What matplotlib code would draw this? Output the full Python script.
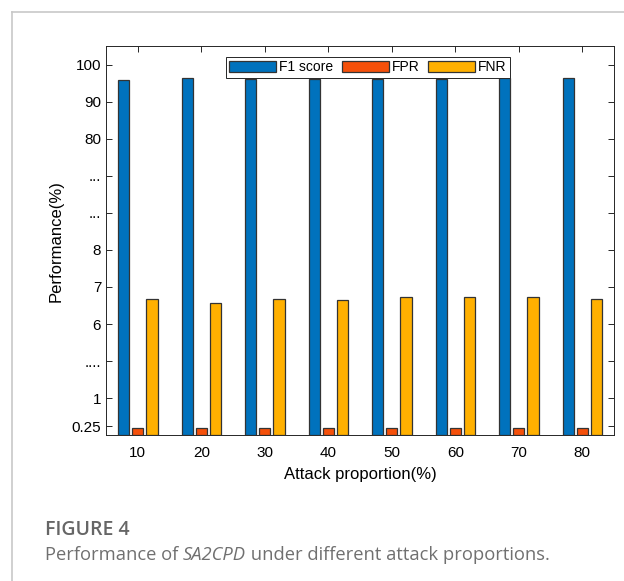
import numpy as np
import matplotlib
matplotlib.use('Agg')
import matplotlib.pyplot as plt
from matplotlib.lines import Line2D

plt.rcParams['font.family'] = ['Liberation Sans', 'DejaVu Sans']

# attack proportion (%) and the three metrics (%)
proportions = [10, 20, 30, 40, 50, 60, 70, 80]
f1_score = [95.7, 96.3, 96.2, 96.2, 96.2, 96.2, 96.4, 96.5]
fpr = [0.2, 0.2, 0.2, 0.2, 0.2, 0.2, 0.2, 0.2]
fnr = [6.67, 6.58, 6.67, 6.64, 6.72, 6.72, 6.72, 6.67]

# broken y axis: real value -> drawing position
brk_vals = [0, 1, 6, 8, 80, 100]
brk_pos = [0, 1, 3, 5, 8, 10]
ytick_pos = [0.25, 1, 2, 3, 4, 5, 6, 7, 8, 9, 10]
ytick_labels = ['0.25', '1', '....', '6', '7', '8', '...', '...', '80', '90', '100']

def ypos(v):
    return np.interp(v, brk_vals, brk_pos)

fig = plt.figure(figsize=(6.24, 5.81), dpi=100)
ax = fig.add_axes([0.170, 0.2508, 0.814, 0.670])

x = np.arange(1, len(proportions) + 1)
w = 0.178
step = 0.222
colors = ['#0072BD', '#F5500A', '#FFB000']
series = [f1_score, fpr, fnr]
names = ['F1 score', 'FPR', 'FNR']
for k, (vals, c, n) in enumerate(zip(series, colors, names)):
    ax.bar(x + (k - 1) * step, ypos(np.array(vals)), width=w, color=c,
           edgecolor='#333333', linewidth=0.9, label=n, zorder=2)

ax.set_xlim(0.5, 8.5)
ax.set_ylim(0, 10.5)
ax.set_xticks(x)
ax.set_xticklabels([str(p) for p in proportions])
ax.set_yticks(ytick_pos)
ax.set_yticklabels(ytick_labels)
ax.tick_params(direction='in', top=True, right=True, labelsize=11, length=4,
               width=0.7, colors='#262626', labelcolor='black')
ax.tick_params(axis='x', pad=8)
for s in ax.spines.values():
    s.set_color('#262626')
    s.set_linewidth(0.7)

ax.set_xlabel('Attack proportion(%)', fontsize=12, labelpad=5)
ax.set_ylabel('Performance(%)', fontsize=12, labelpad=6)

leg = ax.legend(ncol=3, loc='upper center', bbox_to_anchor=(0.515, 0.99),
                fontsize=10, handlelength=3.4, handleheight=0.9, handletextpad=0.2,
                columnspacing=0.6, borderpad=0.25, fancybox=False, framealpha=1)
leg.get_frame().set_edgecolor('#262626')
leg.get_frame().set_linewidth(0.7)

# card border on the top and left edges
fig.add_artist(Line2D([12 / 624, 1], [1 - 12 / 581] * 2, color='#c8c8c8', lw=1.2))
fig.add_artist(Line2D([12 / 624] * 2, [0, 1 - 12 / 581], color='#c8c8c8', lw=1.2))

fig.text(45 / 624, 1 - 530 / 581, 'FIGURE 4', fontsize=14, color='#666666',
         family='Open Sans', fontweight='semibold', va='center')
cap_y = 1 - 555 / 581
cap_kw = dict(fontsize=13.2, color='#707070', family='Open Sans', va='center')
t1 = fig.text(45 / 624, cap_y, 'Performance of ', **cap_kw)
fig.canvas.draw()
x2 = t1.get_window_extent().x1 / fig.bbox.width
t2 = fig.text(x2, cap_y, 'SA2CPD', style='italic', **cap_kw)
fig.canvas.draw()
x3 = t2.get_window_extent().x1 / fig.bbox.width
fig.text(x3, cap_y, ' under different attack proportions.', **cap_kw)

fig.savefig('out.png', dpi=100)
